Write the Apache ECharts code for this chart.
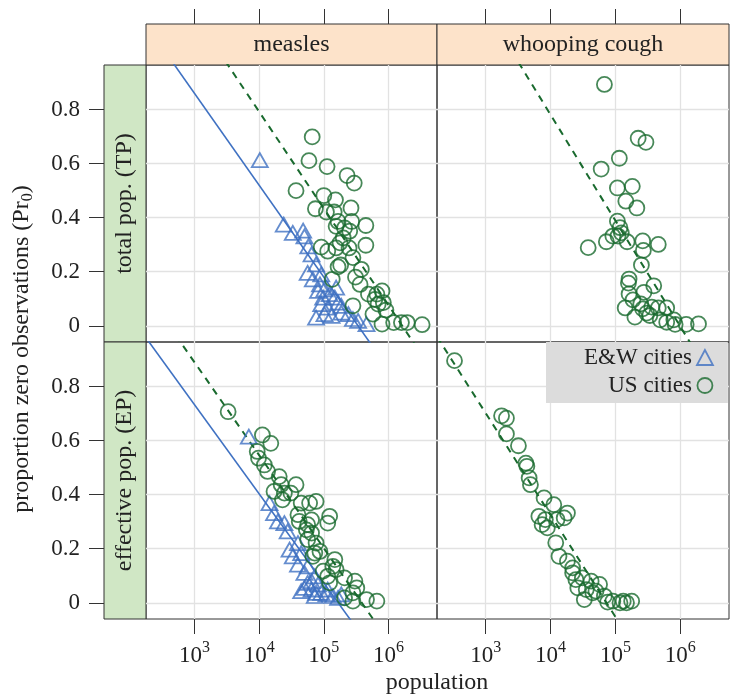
<!DOCTYPE html>
<html>
<head>
<meta charset="utf-8">
<script src="https://cdn.jsdelivr.net/npm/echarts@6/dist/echarts.min.js"></script>
<style>
html, body { margin: 0; padding: 0; background: #fff; }
#chart { width: 737px; height: 695px; }
</style>
</head>
<body>
<div id="chart"></div>
<script>
// x values are log10(population), y values are proportion of zero observations
var xTicks = [3, 4, 5, 6];
var yTicks = [0, 0.2, 0.4, 0.6, 0.8];
var xRange = [2.25, 6.75];
var yRange = [-0.06, 0.965];
var diseases = ['measles', 'whooping cough'];
var popTypes = ['total pop. (TP)', 'effective pop. (EP)'];
var groups = ['E&W cities', 'US cities'];

var measlesTP_EW = [[4.01,0.613],[4.38,0.374],[4.52,0.344],[4.68,0.352],[4.70,0.331],[4.76,0.294],[4.81,0.264],
  [4.75,0.196],[4.88,0.227],[4.83,0.172],[4.96,0.19],[4.94,0.153],[5.01,0.135],[5.09,0.117],[4.99,0.104],
  [5.17,0.104],[4.96,0.08],[5.06,0.067],[5.01,0.043],[5.12,0.037],[5.27,0.074],[5.38,0.043],[5.45,0.025],
  [5.53,0.018],[5.66,0.006],[5.22,0.086],[4.91,0.129],[5.19,0.141],[5.27,0.049],[4.88,0.03]];
var measlesTP_US = [[4.82,0.699],[4.77,0.611],[5.05,0.589],[5.36,0.556],[5.47,0.528],[4.57,0.50],[5.0,0.482],
  [5.18,0.466],[4.87,0.433],[5.04,0.421],[5.16,0.421],[5.42,0.436],[5.22,0.386],[5.43,0.386],[5.65,0.371],
  [5.19,0.368],[5.32,0.362],[5.40,0.35],[5.30,0.325],[5.25,0.307],[4.96,0.291],[5.06,0.276],[5.19,0.288],
  [5.39,0.288],[5.65,0.298],[5.45,0.252],[5.26,0.225],[5.22,0.218],[5.58,0.209],[5.13,0.172],[5.49,0.18],
  [5.56,0.153],[5.69,0.117],[5.90,0.129],[5.79,0.098],[5.92,0.086],[5.45,0.074],[5.76,0.043],[5.96,0.058],
  [5.90,0.006],[6.08,0.012],[6.2,0.012],[6.29,0.012],[6.52,0.004],[5.82,0.117],[5.84,0.08]];
var whoopTP_US = [[4.83,0.893],[5.35,0.694],[5.47,0.679],[5.06,0.62],[4.78,0.58],[5.03,0.51],[5.26,0.516],
  [5.16,0.461],[5.33,0.436],[5.03,0.387],[5.07,0.363],[5.09,0.344],[4.96,0.332],[4.86,0.311],[5.04,0.332],
  [5.18,0.311],[4.58,0.289],[5.42,0.314],[5.43,0.279],[5.66,0.301],[5.40,0.225],[5.21,0.173],[5.20,0.158],
  [5.59,0.148],[5.44,0.124],[5.21,0.118],[5.27,0.096],[5.15,0.066],[5.39,0.081],[5.56,0.069],[5.30,0.032],
  [5.48,0.047],[5.66,0.066],[5.79,0.066],[5.69,0.022],[5.79,0.013],[5.90,0.022],[5.92,0.005],[6.09,0.005],
  [6.28,0.007],[5.53,0.038],[5.42,0.0625]];
var measlesEP_EW = [[3.84,0.615],[4.16,0.369],[4.23,0.332],[4.29,0.301],[4.44,0.264],[4.47,0.197],[4.52,0.172],
  [4.60,0.141],[4.65,0.184],[4.70,0.111],[4.75,0.074],[4.81,0.049],[4.88,0.037],[4.96,0.037],[5.04,0.031],
  [5.14,0.025],[5.22,0.018],[4.86,0.098],[4.75,0.135],[4.60,0.221],[4.39,0.295],[4.65,0.043],[4.81,0.08],
  [4.70,0.055],[4.91,0.068],[5.06,0.049],[4.86,0.025],[5.27,0.031]];
var measlesEP_US = [[3.52,0.707],[4.05,0.621],[4.18,0.59],[3.97,0.56],[3.99,0.535],[4.08,0.51],[4.13,0.486],
  [4.31,0.467],[4.34,0.437],[4.57,0.437],[4.23,0.412],[4.39,0.406],[4.36,0.381],[4.65,0.369],[4.88,0.375],
  [4.78,0.369],[5.09,0.32],[5.06,0.295],[4.60,0.326],[4.62,0.301],[4.81,0.307],[4.75,0.289],[4.81,0.258],
  [4.75,0.234],[4.88,0.221],[4.86,0.184],[4.83,0.172],[4.94,0.19],[5.17,0.16],[5.14,0.135],[4.99,0.117],
  [5.06,0.098],[5.09,0.074],[5.32,0.092],[5.48,0.08],[5.51,0.055],[5.45,0.037],[5.32,0.018],[5.45,0.006],
  [5.66,0.012],[5.82,0.006],[5.19,0.123],[4.49,0.406],[4.73,0.27]];
var whoopEP_US = [[2.52,0.896],[3.245,0.692],[3.32,0.683],[3.32,0.625],[3.505,0.581],[3.62,0.517],[3.635,0.505],
  [3.67,0.462],[3.69,0.437],[3.90,0.388],[4.05,0.363],[4.26,0.332],[3.82,0.32],[3.92,0.308],[3.87,0.289],
  [4.10,0.308],[4.21,0.314],[3.95,0.277],[4.08,0.222],[4.13,0.172],[4.26,0.154],[4.34,0.129],[4.34,0.111],
  [4.39,0.086],[4.49,0.092],[4.625,0.08],[4.755,0.068],[4.42,0.055],[4.55,0.049],[4.70,0.043],[4.52,0.012],
  [4.83,0.025],[4.96,0.006],[5.12,0.006],[5.25,0.006],[5.17,0.0],[4.65,0.037],[4.88,0.0025],[5.07,0.0]];

// fitted lines: [intercept, slope] in Pr0 = a + b * log10(pop)
var fitMeaslesTP_EW = [1.88, -0.34];
var fitMeaslesTP_US = [2.224, -0.358];
var fitWhoopTP_US = [2.349, -0.392];
var fitMeaslesEP_EW = [1.723, -0.33];
var fitMeaslesEP_US = [1.922, -0.344];
var fitWhoopEP_US = [1.833, -0.377];

var blue = '#3f71c2';
var green = '#196a2e';
var ink = '#222';
var font = 'Liberation Serif';

var chart = echarts.init(document.getElementById('chart'), null, { renderer: 'canvas' });

var gridBoxes = [
  { left: 146, top: 65, width: 291, height: 277 },
  { left: 437, top: 65, width: 292, height: 277 },
  { left: 146, top: 342, width: 291, height: 277 },
  { left: 437, top: 342, width: 292, height: 277 }
];

function xAxisFor(i) {
  var isTop = i < 2;
  return {
    gridIndex: i, type: 'value', min: xRange[0], max: xRange[1],
    position: isTop ? 'top' : 'bottom', offset: isTop ? 41 : 0,
    axisLine: { show: false, onZero: false },
    axisTick: { show: true, customValues: xTicks, length: 15, lineStyle: { color: '#333' } },
    axisLabel: {
      show: !isTop, customValues: xTicks, margin: 21,
      formatter: function(v) { return '{b|10}{s|' + v + '}'; },
      rich: {
        b: { fontFamily: font, fontSize: 23, color: ink, lineHeight: 32 },
        s: { fontFamily: font, fontSize: 16, color: ink, lineHeight: 14, verticalAlign: 'top' }
      }
    },
    splitLine: { show: true, lineStyle: { color: '#e2e2e2', width: 1.3 } }
  };
}

function yAxisFor(i) {
  var isLeft = i % 2 === 0;
  return {
    gridIndex: i, type: 'value', min: yRange[0], max: yRange[1],
    position: 'left', offset: isLeft ? 42 : 0,
    axisLine: { show: false, onZero: false },
    axisTick: { show: isLeft, customValues: yTicks, length: 15, lineStyle: { color: '#333' } },
    axisLabel: {
      show: isLeft, customValues: yTicks, margin: 24,
      fontFamily: font, fontSize: 23, color: ink,
      formatter: function(v) { return v === 0 ? '0' : v.toFixed(1); }
    },
    splitLine: { show: true, lineStyle: { color: '#e2e2e2', width: 1.3 } }
  };
}

function scatter(name, data, gi) {
  var tri = name === groups[0];
  return {
    name: name, type: 'scatter', xAxisIndex: gi, yAxisIndex: gi, data: data,
    symbol: tri ? 'triangle' : 'circle', symbolSize: tri ? [16, 14] : 15,
    itemStyle: { color: 'rgba(0,0,0,0)', borderColor: tri ? blue : green, borderWidth: 1.8 },
    z: 3
  };
}

function fitLine(coef, gi, dashed) {
  return {
    type: 'line', xAxisIndex: gi, yAxisIndex: gi, clip: true, symbol: 'none', silent: true,
    data: xRange.map(function(x) { return [x, coef[0] + coef[1] * x]; }),
    lineStyle: dashed ? { color: green, width: 2, type: [7, 6] } : { color: blue, width: 1.6 },
    z: 2
  };
}

var graphics = [];
// strips on top
diseases.forEach(function(d, j) {
  var g = gridBoxes[j];
  graphics.push({ type: 'rect', shape: { x: g.left, y: 24, width: g.width, height: 41 },
    style: { fill: '#fde3ca', stroke: '#333', lineWidth: 1 } });
  graphics.push({ type: 'text', x: g.left + g.width / 2, y: 45,
    style: { text: d, fontFamily: font, fontSize: 24, fill: ink, align: 'center', verticalAlign: 'middle' } });
});
// strips on the left
popTypes.forEach(function(p, r) {
  var g = gridBoxes[r * 2];
  graphics.push({ type: 'rect', shape: { x: 104, y: g.top, width: 42, height: g.height },
    style: { fill: '#d0e7c5', stroke: '#333', lineWidth: 1 } });
  graphics.push({ type: 'text', x: 125, y: g.top + g.height / 2, rotation: Math.PI / 2,
    style: { text: p, fontFamily: font, fontSize: 24, fill: ink, align: 'center', verticalAlign: 'middle' } });
});
graphics.push({ type: 'text', x: 22, y: 349, rotation: Math.PI / 2,
  style: {
    text: '{a|proportion zero observations (Pr}{u|0}{a|)}', align: 'center', verticalAlign: 'middle',
    rich: {
      a: { fontFamily: font, fontSize: 24, fill: ink, lineHeight: 28 },
      u: { fontFamily: font, fontSize: 16, fill: ink, lineHeight: 14, verticalAlign: 'bottom' }
    }
  } });
graphics.push({ type: 'text', x: 437, y: 683,
  style: { text: 'population', fontFamily: font, fontSize: 24, fill: ink, align: 'center', verticalAlign: 'middle' } });

chart.setOption({
  animation: false,
  backgroundColor: '#fff',
  grid: gridBoxes.map(function(g) {
    return { left: g.left, top: g.top, width: g.width, height: g.height, show: true,
      borderColor: '#333', borderWidth: 1, containLabel: false };
  }),
  xAxis: [0, 1, 2, 3].map(xAxisFor),
  yAxis: [0, 1, 2, 3].map(yAxisFor),
  legend: {
    orient: 'vertical', align: 'right', left: 546, top: 342,
    backgroundColor: '#dcdcdc', padding: [4, 14, 6, 38], itemGap: 5,
    itemWidth: 16, itemHeight: 15,
    textStyle: { fontFamily: font, fontSize: 23, color: ink },
    data: [
      { name: groups[0], icon: 'triangle', itemStyle: { color: 'rgba(0,0,0,0)', borderColor: blue, borderWidth: 1.8 } },
      { name: groups[1], icon: 'circle', itemStyle: { color: 'rgba(0,0,0,0)', borderColor: green, borderWidth: 1.8 } }
    ]
  },
  series: [
    scatter(groups[0], measlesTP_EW, 0),
    scatter(groups[1], measlesTP_US, 0),
    fitLine(fitMeaslesTP_EW, 0, false),
    fitLine(fitMeaslesTP_US, 0, true),
    scatter(groups[1], whoopTP_US, 1),
    fitLine(fitWhoopTP_US, 1, true),
    scatter(groups[0], measlesEP_EW, 2),
    scatter(groups[1], measlesEP_US, 2),
    fitLine(fitMeaslesEP_EW, 2, false),
    fitLine(fitMeaslesEP_US, 2, true),
    scatter(groups[1], whoopEP_US, 3),
    fitLine(fitWhoopEP_US, 3, true)
  ],
  graphic: graphics
});
</script>
</body>
</html>
